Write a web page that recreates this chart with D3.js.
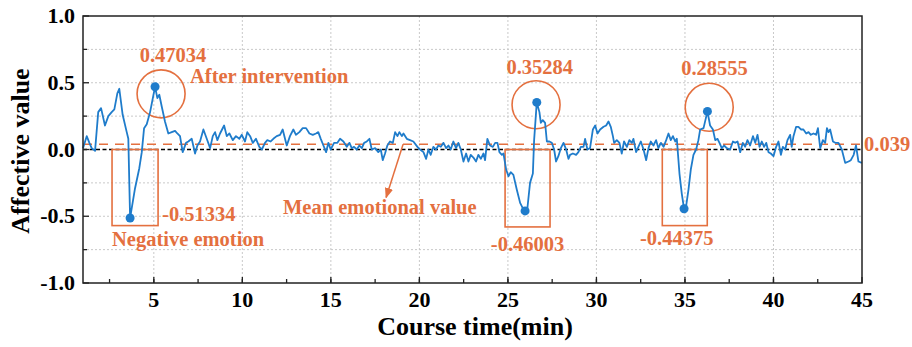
<!DOCTYPE html>
<html>
<head>
<meta charset="utf-8">
<script src="https://cdn.jsdelivr.net/npm/d3@7"></script>
<style>
  body { margin: 0; background: #fff; }
  text { font-family: "Liberation Serif", "Times New Roman", serif; font-weight: bold; }
</style>
</head>
<body>
<svg id="chart" width="912" height="347"></svg>
<script>
// series: course time (min) and affective value
var times = [1.00, 1.21, 1.36, 1.49, 1.68, 1.86, 2.02, 2.24, 2.43, 2.62, 2.77, 2.94, 3.05, 3.24, 3.47, 3.56, 3.66,
  3.94, 4.18, 4.32, 4.45, 4.60, 4.79, 5.07, 5.20, 5.31, 5.45, 5.63, 5.82, 6.01, 6.20, 6.33, 6.48, 6.63, 6.82,
  6.95, 7.14, 7.33, 7.46, 7.61, 7.80, 7.99, 8.18, 8.33, 8.46, 8.59, 8.74, 8.97, 9.12, 9.27, 9.46, 9.64, 9.83,
  9.97, 10.15, 10.28, 10.44, 10.59, 10.77, 10.96, 11.10, 11.28, 11.41, 11.60, 11.75, 11.94, 12.13, 12.28, 12.41,
  12.51, 12.69, 12.88, 13.03, 13.22, 13.41, 13.60, 13.79, 13.98, 14.16, 14.29, 14.43, 14.58, 14.73, 14.86, 14.99,
  15.18, 15.37, 15.52, 15.71, 15.90, 16.05, 16.18, 16.31, 16.46, 16.61, 16.75, 16.88, 17.03, 17.18, 17.31, 17.50,
  17.68, 17.82, 17.93, 18.06, 18.19, 18.34, 18.50, 18.63, 18.76, 18.87, 19.01, 19.10, 19.29, 19.47, 19.66, 19.89,
  20.04, 20.23, 20.38, 20.51, 20.64, 20.79, 20.94, 21.07, 21.21, 21.36, 21.51, 21.64, 21.77, 21.92, 22.07, 22.20,
  22.34, 22.49, 22.64, 22.77, 22.90, 23.05, 23.20, 23.33, 23.47, 23.62, 23.71, 23.84, 23.99, 24.15, 24.28, 24.41,
  24.52, 24.66, 24.75, 24.90, 25.03, 25.16, 25.31, 25.50, 25.69, 25.88, 25.97, 26.10, 26.25, 26.41, 26.48, 26.63,
  26.78, 26.86, 26.97, 27.10, 27.20, 27.34, 27.48, 27.61, 27.72, 27.85, 27.99, 28.14, 28.29, 28.42, 28.51, 28.67,
  28.85, 28.98, 29.12, 29.27, 29.36, 29.49, 29.64, 29.80, 29.93, 30.06, 30.21, 30.40, 30.55, 30.68, 30.81, 30.93,
  31.00, 31.15, 31.30, 31.43, 31.56, 31.72, 31.86, 32.00, 32.09, 32.24, 32.37, 32.51, 32.66, 32.81, 32.94, 33.07,
  33.22, 33.37, 33.50, 33.64, 33.79, 33.94, 34.07, 34.20, 34.32, 34.45, 34.54, 34.69, 34.82, 34.95, 35.07, 35.20,
  35.33, 35.48, 35.63, 35.76, 35.86, 36.05, 36.27, 36.42, 36.58, 36.71, 36.84, 36.95, 37.08, 37.21, 37.36, 37.55,
  37.71, 37.84, 37.97, 38.12, 38.27, 38.40, 38.53, 38.68, 38.84, 38.97, 39.10, 39.21, 39.34, 39.47, 39.59, 39.72,
  39.85, 40.00, 40.15, 40.28, 40.42, 40.53, 40.66, 40.79, 40.94, 41.03, 41.13, 41.28, 41.41, 41.55, 41.69, 41.85,
  41.98, 42.11, 42.26, 42.41, 42.51, 42.64, 42.79, 42.92, 43.02, 43.11, 43.20, 43.36, 43.49, 43.67, 43.86, 44.05,
  44.24, 44.37, 44.53, 44.66, 44.80, 44.99];
var affect = [0.01, 0.10, 0.05, 0.01, -0.01, 0.28, 0.31, 0.18, 0.25, 0.28, 0.30, 0.42, 0.455, 0.26, 0.13, 0.08, -0.51334,
  -0.29, -0.14, -0.02, 0.16, 0.19, 0.28, 0.47034, 0.385, 0.41, 0.32, 0.21, 0.12, 0.13, 0.14, 0.12, 0.10, -0.02, 0.05,
  0.06, 0.08, -0.03, 0.03, 0.06, 0.15, 0.08, 0.01, 0.10, 0.13, 0.07, 0.12, 0.18, 0.10, 0.12, 0.07, 0.10, 0.08,
  0.11, 0.06, 0.13, 0.10, 0.05, 0.08, 0.02, 0.00, 0.05, 0.07, 0.06, 0.08, 0.10, 0.11, 0.15, 0.08,
  0.03, 0.10, 0.15, 0.11, 0.13, 0.16, 0.16, 0.12, 0.11, 0.12, 0.13, 0.08, 0.03, -0.02, 0.05, 0.00,
  0.05, 0.05, 0.08, 0.06, 0.02, 0.05, 0.01, 0.02, 0.00, 0.03, 0.01, 0.05, 0.06, 0.08, 0.00, 0.01,
  -0.02, 0.00, -0.08, -0.03, 0.03, 0.06, 0.05, 0.13, 0.10, 0.13, 0.10, 0.12, 0.08, 0.07, 0.06, 0.02,
  0.00, -0.02, -0.07, 0.00, -0.04, 0.02, 0.00, 0.03, 0.02, 0.05, 0.01, 0.03, 0.00, 0.06, 0.01, 0.05,
  0.00, -0.09, -0.03, -0.09, -0.04, -0.06, -0.09, -0.04, -0.07, -0.03, -0.08, 0.08, 0.03, 0.02, 0.05, 0.05,
  -0.02, -0.04, -0.03, -0.15, -0.20, -0.17, -0.19, -0.30, -0.40, -0.45, -0.46003, -0.44, -0.25, -0.18, 0.07, 0.35284,
  0.28, 0.20, 0.22, 0.20, 0.06, 0.06, 0.05, 0.00, -0.09, -0.05, 0.01, 0.05, 0.00, -0.07, -0.04, -0.03,
  -0.04, -0.02, 0.02, 0.02, 0.08, 0.00, 0.01, 0.15, 0.18, 0.12, 0.15, 0.17, 0.18, 0.21, 0.17, 0.10,
  0.05, 0.07, 0.05, -0.03, 0.06, 0.02, 0.07, 0.05, 0.08, -0.02, 0.02, 0.06, 0.00, -0.08, 0.01, 0.06,
  0.03, 0.07, 0.01, 0.05, 0.02, 0.07, 0.12, 0.07, 0.10, 0.06, 0.08, -0.18, -0.33, -0.44375, -0.42, -0.30,
  -0.15, -0.04, 0.00, 0.07, 0.15, 0.16, 0.28555, 0.18, 0.15, 0.07, 0.08, 0.05, 0.01, 0.03, 0.01, 0.00,
  0.06, 0.05, 0.06, -0.02, 0.05, 0.02, 0.07, 0.03, 0.10, 0.05, 0.11, 0.02, 0.06, 0.02, 0.05, -0.02,
  -0.03, -0.05, 0.02, 0.06, -0.04, 0.02, 0.00, 0.07, 0.11, 0.02, 0.10, 0.17, 0.17, 0.15, 0.15, 0.12,
  0.13, 0.11, 0.12, 0.11, 0.16, 0.01, 0.07, 0.05, 0.16, 0.13, 0.15, 0.06, 0.05, 0.05, 0.00, -0.10,
  -0.09, -0.08, -0.04, 0.03, -0.09, -0.10];

var meanValue = 0.039;
var peakTimes = [5.07, 26.63, 36.27], peakValues = [0.47034, 0.35284, 0.28555];
var troughTimes = [3.66, 25.97, 34.95], troughValues = [-0.51334, -0.46003, -0.44375];
// boxes round the dips and rings round the rebounds, in data units
var boxT0 = [2.64, 24.84, 33.72], boxT1 = [5.24, 27.38, 36.26], boxV = [-0.57, -0.58, -0.57];
var ringT = [5.41, 26.59, 36.37], ringV = [0.417, 0.335, 0.316];

var xTicks = [5, 10, 15, 20, 25, 30, 35, 40, 45];
var xMinor = d3.range(2.5, 45, 2.5);
var yTicks = [-1.0, -0.5, 0.0, 0.5, 1.0];
var yMinor = [-0.75, -0.25, 0.25, 0.75];
var yGrid = [-0.75, -0.5, -0.25, 0.25, 0.5, 0.75];

var svg = d3.select("#chart"),
    pl = 83, pr = 862, pt = 16, pb = 283, // plot box edges
    orange = "#e4703f", blue = "#1f7ccb",
    x = d3.scaleLinear().domain([1, 45]).range([pl, pr]),
    y = d3.scaleLinear().domain([-1, 1]).range([pb, pt]);

svg.append("defs").append("marker")
    .attr("id", "arrow").attr("viewBox", "0 0 10 10")
    .attr("refX", 9).attr("refY", 5)
    .attr("markerWidth", 7).attr("markerHeight", 7)
    .attr("orient", "auto")
  .append("path").attr("d", "M0,1L10,5L0,9Z").attr("fill", orange);

// dotted grid
svg.append("g").selectAll("line").data(yGrid).join("line")
    .attr("x1", pl).attr("x2", pr)
    .attr("y1", d => y(d)).attr("y2", d => y(d))
    .attr("stroke", "#c9c9c9").attr("stroke-width", 1).attr("stroke-dasharray", "2,2");
svg.append("g").selectAll("line").data(xTicks.slice(0, -1)).join("line")
    .attr("x1", d => x(d)).attr("x2", d => x(d))
    .attr("y1", pt).attr("y2", pb)
    .attr("stroke", "#c9c9c9").attr("stroke-width", 1).attr("stroke-dasharray", "2,2");

// zero line and mean line
svg.append("line").attr("x1", pl).attr("x2", pr).attr("y1", y(0)).attr("y2", y(0))
    .attr("stroke", "#000").attr("stroke-width", 1.5).attr("stroke-dasharray", "4,2.5");
svg.append("line").attr("x1", pl).attr("x2", pr).attr("y1", y(meanValue)).attr("y2", y(meanValue))
    .attr("stroke", orange).attr("stroke-width", 1.5).attr("stroke-dasharray", "9,7");

// boxes and rings
svg.append("g").selectAll("rect").data(boxT0).join("rect")
    .attr("x", d => x(d)).attr("y", y(0))
    .attr("width", (d, i) => x(boxT1[i]) - x(d))
    .attr("height", (d, i) => y(boxV[i]) - y(0))
    .attr("fill", "none").attr("stroke", orange).attr("stroke-width", 1.6);
svg.append("g").selectAll("circle").data(ringT).join("circle")
    .attr("cx", d => x(d)).attr("cy", (d, i) => y(ringV[i])).attr("r", 24)
    .attr("fill", "none").attr("stroke", orange).attr("stroke-width", 1.6);

// the series
var line = d3.line().x(d => x(d[0])).y(d => y(d[1]));
svg.append("path").datum(d3.zip(times, affect))
    .attr("d", line).attr("fill", "none")
    .attr("stroke", blue).attr("stroke-width", 1.8).attr("stroke-linejoin", "round");

svg.append("g").selectAll("circle").data(d3.zip(peakTimes.concat(troughTimes), peakValues.concat(troughValues))).join("circle")
    .attr("cx", d => x(d[0])).attr("cy", d => y(d[1])).attr("r", 4.5).attr("fill", blue);

// frame and inward ticks
svg.append("rect").attr("x", pl).attr("y", pt).attr("width", pr - pl).attr("height", pb - pt)
    .attr("fill", "none").attr("stroke", "#222").attr("stroke-width", 1.5);
var ticks = svg.append("g").attr("stroke", "#222").attr("stroke-width", 1.3);
ticks.selectAll(".xt").data(xTicks).join("line").attr("class", "xt")
    .attr("x1", d => x(d)).attr("x2", d => x(d)).attr("y1", pb).attr("y2", pb - 6);
ticks.selectAll(".xm").data(xMinor).join("line").attr("class", "xm")
    .attr("x1", d => x(d)).attr("x2", d => x(d)).attr("y1", pb).attr("y2", pb - 4);
ticks.selectAll(".yt").data(yTicks).join("line").attr("class", "yt")
    .attr("x1", pl).attr("x2", pl + 6).attr("y1", d => y(d)).attr("y2", d => y(d));
ticks.selectAll(".ym").data(yMinor).join("line").attr("class", "ym")
    .attr("x1", pl).attr("x2", pl + 4).attr("y1", d => y(d)).attr("y2", d => y(d));

// tick labels (plain hyphen for the minus, as in the figure)
svg.append("g").selectAll("text").data(yTicks).join("text")
    .attr("x", pl - 8).attr("y", d => y(d) + 7)
    .attr("text-anchor", "end").attr("font-size", 22)
    .text(d => d.toFixed(1));
svg.append("g").selectAll("text").data(xTicks).join("text")
    .attr("x", d => x(d)).attr("y", 307)
    .attr("text-anchor", "middle").attr("font-size", 22)
    .text(d => d);

// axis titles
svg.append("text").attr("x", 475).attr("y", 335)
    .attr("text-anchor", "middle").attr("font-size", 26).text("Course time(min)");
svg.append("text").attr("transform", "translate(29,151) rotate(-90)")
    .attr("text-anchor", "middle").attr("font-size", 26).text("Affective value");

// annotations
var note = svg.append("g").attr("fill", orange).attr("font-size", 20.5);
var peakDx = [18, 3, 7], peakDy = [-25, -28, -36];
note.selectAll(".pk").data(peakTimes).join("text").attr("class", "pk")
    .attr("x", (d, i) => x(d) + peakDx[i]).attr("y", (d, i) => y(peakValues[i]) + peakDy[i])
    .attr("text-anchor", "middle").text((d, i) => peakValues[i].toFixed(5));
note.append("text").attr("x", 190).attr("y", 83).text("After intervention");

note.append("text").attr("x", x(boxT1[0]) + 4).attr("y", y(troughValues[0]) + 3)
    .text(troughValues[0].toFixed(5));
note.append("text").attr("x", x(boxT0[0])).attr("y", 246).text("Negative emotion");
note.append("text").attr("x", (x(boxT0[1]) + x(boxT1[1])) / 2).attr("y", 251)
    .attr("text-anchor", "middle").text(troughValues[1].toFixed(5));
note.append("text").attr("x", (x(boxT0[2]) + x(boxT1[2])) / 2 - 8).attr("y", 245)
    .attr("text-anchor", "middle").text(troughValues[2].toFixed(5));

note.append("text").attr("x", 283).attr("y", 214).text("Mean emotional value");
svg.append("line")
    .attr("x1", x(19.08)).attr("y1", y(meanValue))
    .attr("x2", x(18.12)).attr("y2", y(-0.36))
    .attr("stroke", orange).attr("stroke-width", 1.5).attr("marker-end", "url(#arrow)");

note.append("text").attr("x", pr + 2).attr("y", y(meanValue) + 7).text(meanValue);
</script>
</body>
</html>
